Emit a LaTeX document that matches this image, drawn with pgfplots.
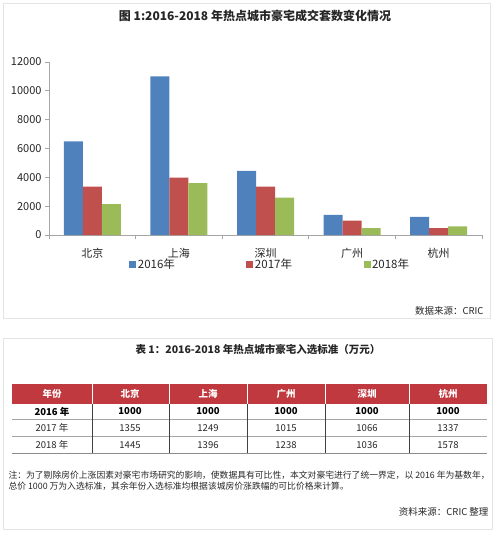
\documentclass[border=0pt]{standalone}
\usepackage{fontspec}
\setmainfont{Noto Sans CJK SC}
\usepackage{pgfplots}
\pgfplotsset{compat=1.18}
\definecolor{c16}{HTML}{4F81BD}
\definecolor{c17}{HTML}{C0504D}
\definecolor{c18}{HTML}{9BBB59}
\definecolor{hdr}{HTML}{C0393F}
\definecolor{boxc}{HTML}{E4E4E4}
\definecolor{axc}{HTML}{A6A6A6}
\definecolor{txt}{HTML}{262626}
\begin{document}
\begin{tikzpicture}
\path[use as bounding box] (0,0) rectangle (495pt,-535pt);
% chart box
\draw[boxc] (3pt,-3pt) rectangle (490pt,-318pt);
\node[font=\bfseries\fontsize{12}{14}\selectfont, text=txt] at (255pt,-16pt) {图 1:2016-2018 年热点城市豪宅成交套数变化情况};
\begin{axis}[
  at={(49pt,-235pt)}, anchor=south west,
  width=433pt, height=173pt, scale only axis,
  ymin=0, ymax=12000, xmin=-0.5, xmax=4.5,
  ybar=0pt, bar width=19pt,
  axis x line*=bottom, axis y line*=left,
  axis line style={draw=axc, line width=0.8pt},
  tick style={draw=axc, line width=0.8pt},
  tick align=outside, major tick length=4pt,
  ytick={0,2000,...,12000},
  scaled y ticks=false,
  xtick={-0.5,0.5,1.5,2.5,3.5,4.5}, xticklabels={},
  extra x ticks={0,1,2,3,4},
  extra x tick labels={北京,上海,深圳,广州,杭州},
  extra x tick style={major tick length=0pt, tick style={draw=none},
    xticklabel style={yshift=-10pt}},
  tick label style={font=\fontsize{11}{13}\selectfont, text=txt},
  /pgf/number format/1000 sep={},
  /pgf/number format/assume math mode=true,
  legend columns=3,
  legend style={at={(0.5,0)}, anchor=north, yshift=-20pt, xshift=4.5pt, draw=none, fill=none,
    font=\fontsize{11.5}{13}\selectfont, text=txt,
    /tikz/every even column/.append style={column sep=70pt},
    nodes={inner xsep=1.5pt}},
  legend image code/.code={\fill[#1] (0pt,-3.5pt) rectangle (7pt,3.5pt);},
]
\addplot[fill=c16, draw=none] coordinates {(0,6500) (1,11000) (2,4450) (3,1400) (4,1250)};
\addplot[fill=c17, draw=none] coordinates {(0,3350) (1,3980) (2,3350) (3,1000) (4,470)};
\addplot[fill=c18, draw=none] coordinates {(0,2150) (1,3600) (2,2600) (3,470) (4,600)};
\legend{2016年,2017年,2018年}
\end{axis}
\node[anchor=east, font=\fontsize{9.5}{11}\selectfont, text=txt] at (487pt,-311pt) {数据来源：CRIC};
% table box
\draw[boxc] (3pt,-338pt) rectangle (492pt,-529pt);
\node[font=\bfseries\fontsize{10.5}{12}\selectfont, text=txt] at (258pt,-350pt) {表 1：2016-2018 年热点城市豪宅入选标准（万元）};
\fill[hdr] (12pt,-384pt) rectangle (487pt,-404pt);
\draw[black!35, line width=0.6pt] (12pt,-419pt) -- (487pt,-419pt);
\draw[black!35, line width=0.6pt] (12pt,-436pt) -- (487pt,-436pt);
\draw[black!45, line width=0.8pt] (12pt,-453pt) -- (487pt,-453pt);
\foreach \x in {92,169,247,325,409} {
  \draw[white, line width=0.8pt] (\x pt,-384pt) -- (\x pt,-404pt);
  \draw[black!75, line width=0.5pt] (\x pt,-404pt) -- (\x pt,-453pt);
}
\foreach \x/\t in {52/年份,130/北京,208/上海,286/广州,367/深圳,448/杭州}
  \node[font=\bfseries\fontsize{9.5}{11}\selectfont, text=white] at (\x pt,-394pt) {\t};
\foreach \x/\t in {52/2016 年,130/1000,208/1000,286/1000,367/1000,448/1000}
  \node[font=\bfseries\fontsize{9.5}{11}\selectfont, text=black] at (\x pt,-411.5pt) {\t};
\foreach \x/\t in {52/2017 年,130/1355,208/1249,286/1015,367/1066,448/1337}
  \node[font=\fontsize{9.5}{11}\selectfont, text=txt] at (\x pt,-428pt) {\t};
\foreach \x/\t in {52/2018 年,130/1445,208/1396,286/1238,367/1036,448/1578}
  \node[font=\fontsize{9.5}{11}\selectfont, text=txt] at (\x pt,-445pt) {\t};
\node[anchor=west, align=left, font=\fontsize{8.8}{11}\selectfont, text=txt] at (5pt,-480.5pt)
  {注：为了剔除房价上涨因素对豪宅市场研究的影响，使数据具有可比性，本文对豪宅进行了统一界定，以 2016 年为基数年，\\总价 1000 万为入选标准，其余年份入选标准均根据该城房价涨跌幅的可比价格来计算。};
\node[anchor=east, font=\fontsize{9.5}{11}\selectfont, text=txt] at (492pt,-512pt) {资料来源：CRIC 整理};
\end{tikzpicture}
\end{document}
